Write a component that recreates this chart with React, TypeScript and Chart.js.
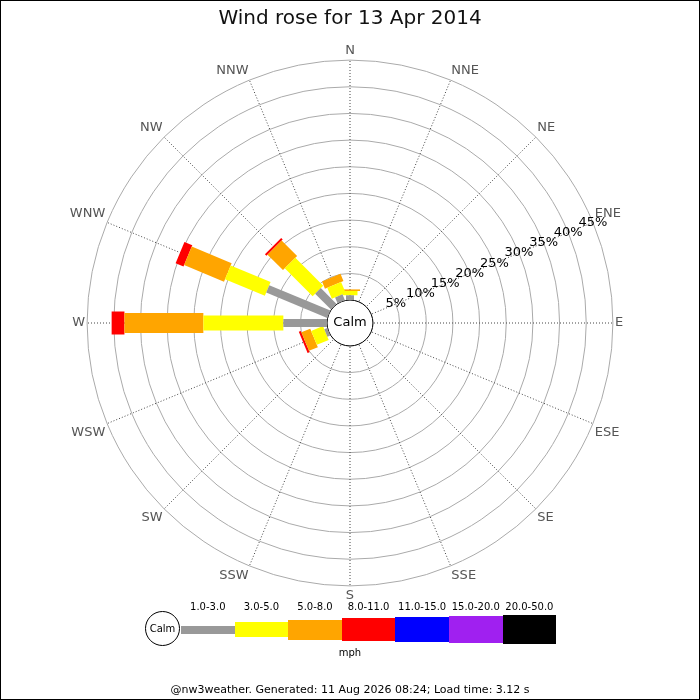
import React, { useEffect, useRef } from 'react';
import Chart from 'chart.js/auto';

// compass points, clockwise from north
const directions = ['N', 'NNE', 'NE', 'ENE', 'E', 'ESE', 'SE', 'SSE', 'S', 'SSW', 'SW', 'WSW', 'W', 'WNW', 'NW', 'NNW'];

// speed bands (mph)
const speedBands = ['1.0-3.0', '3.0-5.0', '5.0-8.0', '8.0-11.0', '11.0-15.0', '15.0-20.0', '20.0-50.0'];

// % of the day per direction, one array per band
const band1to3 = [0.9, 0, 0, 0, 0, 0, 0, 0, 0, 0, 0, 0.6, 8.2, 12.4, 4.2, 1.2];
const band3to5 = [0.8, 0, 0, 0, 0, 0, 0, 0, 0, 0, 0, 2.4, 15.0, 8.1, 7.4, 2.25];
const band5to8 = [0.3, 0, 0, 0, 0, 0, 0, 0, 0, 0, 0, 1.8, 14.8, 8.1, 4.1, 1.45];
const band8to11 = [0, 0, 0, 0, 0, 0, 0, 0, 0, 0, 0, 0.4, 2.4, 1.6, 0.4, 0];
const band11to15 = [0, 0, 0, 0, 0, 0, 0, 0, 0, 0, 0, 0, 0, 0, 0, 0];
const band15to20 = [0, 0, 0, 0, 0, 0, 0, 0, 0, 0, 0, 0, 0, 0, 0, 0];
const band20to50 = [0, 0, 0, 0, 0, 0, 0, 0, 0, 0, 0, 0, 0, 0, 0, 0];
const bandValues = [band1to3, band3to5, band5to8, band8to11, band11to15, band15to20, band20to50];

// radial ticks
const tickValues = [0, 5, 10, 15, 20, 25, 30, 35, 40, 45];
const tickLabels = ['', '5%', '10%', '15%', '20%', '25%', '30%', '35%', '40%', '45%'];
const calmEdge = -4.3; // scale value at the centre, so 0 sits on the calm circle

const bandColours = ['#999999', '#ffff00', '#ffa500', '#ff0000', '#0000ff', '#a020f0', '#000000'];
const bandWidths = [8, 15, 20, 23, 25, 27, 29];

const FONT = "'DejaVu Sans', sans-serif";

const roseExtras = {
  id: 'roseExtras',
  beforeDatasetsDraw(chart: any) {
    const r = chart.scales.r;
    const ctx = chart.ctx;
    const rad = r.getDistanceFromCenterForValue(0);
    ctx.save();
    ctx.beginPath();
    ctx.arc(r.xCenter, r.yCenter, rad, 0, Math.PI * 2);
    ctx.fillStyle = '#ffffff';
    ctx.fill();
    ctx.lineWidth = 1;
    ctx.strokeStyle = '#000000';
    ctx.stroke();
    ctx.fillStyle = '#000000';
    ctx.font = `13px ${FONT}`;
    ctx.textAlign = 'center';
    ctx.textBaseline = 'middle';
    ctx.fillText('Calm', r.xCenter, r.yCenter);
    ctx.restore();
  },
  afterDatasetsDraw(chart: any) {
    const r = chart.scales.r;
    const ctx = chart.ctx;
    const idx = directions.indexOf('ENE');
    ctx.save();
    ctx.fillStyle = '#000000';
    ctx.font = `13px ${FONT}`;
    ctx.textAlign = 'center';
    ctx.textBaseline = 'middle';
    tickValues.forEach((v, i) => {
      if (!tickLabels[i]) return;
      const p = r.getPointPositionForValue(idx, v);
      ctx.fillText(tickLabels[i], p.x, p.y);
    });
    ctx.restore();
  },
};

const App: React.FC = () => {
  const canvasRef = useRef<HTMLCanvasElement>(null);
  const chartRef = useRef<Chart | null>(null);

  useEffect(() => {
    document.body.style.margin = '0';
    if (!canvasRef.current) return;
    if (chartRef.current) chartRef.current.destroy();

    // each band segment is a rotated 'line' point at the middle of its span
    const datasets = bandValues.map((vals, b) => {
      const starts = vals.map((_, d) => bandValues.slice(0, b).reduce((s, arr) => s + arr[d], 0));
      const halfLength = (c: any) => {
        const r = c.chart.scales.r;
        const d = c.dataIndex;
        const v = vals[d];
        if (!r || !(v > 0)) return 0;
        return (r.getDistanceFromCenterForValue(starts[d] + v) - r.getDistanceFromCenterForValue(starts[d])) / 2;
      };
      return {
        label: speedBands[b],
        data: vals.map((v, d) => (v > 0 ? starts[d] + v / 2 : null)),
        showLine: false,
        fill: false,
        borderWidth: 0,
        pointStyle: 'line',
        pointBorderColor: bandColours[b],
        pointBackgroundColor: bandColours[b],
        pointBorderWidth: bandWidths[b],
        pointHoverBorderWidth: bandWidths[b],
        pointRotation: (c: any) => c.dataIndex * 22.5 - 90,
        pointRadius: halfLength,
        pointHoverRadius: halfLength,
      };
    });

    chartRef.current = new Chart(canvasRef.current, {
      type: 'radar',
      data: { labels: directions, datasets: datasets as any },
      plugins: [roseExtras],
      options: {
        responsive: true,
        maintainAspectRatio: false,
        animation: false,
        layout: { padding: { top: 0, bottom: 95.5, left: 0, right: 0 } },
        plugins: {
          legend: { display: false },
          tooltip: { enabled: false },
          title: {
            display: true,
            text: 'Wind rose for 13 Apr 2014',
            color: '#111111',
            font: { family: FONT, size: 20, weight: 'normal' },
            padding: { top: 7, bottom: 12.5 },
          },
        },
        scales: {
          r: {
            min: calmEdge,
            max: 45,
            startAngle: 0,
            afterBuildTicks: (scale: any) => {
              scale.ticks = tickValues.map((v) => ({ value: v }));
            },
            ticks: { display: false },
            grid: {
              circular: true,
              color: '#aaaaaa',
              lineWidth: 1,
            },
            angleLines: {
              display: true,
              color: '#444444',
              lineWidth: 1,
              borderDash: [1, 2],
            },
            pointLabels: {
              display: true,
              color: '#555555',
              padding: 2,
              font: { family: FONT, size: 13 },
            },
          },
        },
      },
    });

    return () => {
      if (chartRef.current) {
        chartRef.current.destroy();
        chartRef.current = null;
      }
    };
  }, []);

  const keyLeft = 181;
  const keyStep = 53.6;

  return (
    <div style={{ position: 'relative', width: 700, height: 700, fontFamily: FONT, background: '#fff' }}>
      <div style={{ position: 'absolute', left: 0, top: 0, width: 700, height: 700 }}>
        <canvas ref={canvasRef}></canvas>
      </div>
      {/* speed key */}
      <div
        style={{
          position: 'absolute', left: 145, top: 611, width: 35, height: 35, boxSizing: 'border-box',
          border: '1px solid #000', borderRadius: '50%', background: '#fff',
          display: 'flex', alignItems: 'center', justifyContent: 'center', fontSize: 10, color: '#000',
        }}
      >
        Calm
      </div>
      <div style={{ position: 'absolute', left: keyLeft, top: 615, height: 29, display: 'flex', alignItems: 'center' }}>
        {speedBands.map((b, i) => (
          <div key={b} style={{ width: keyStep, height: bandWidths[i], background: bandColours[i] }} />
        ))}
      </div>
      <div style={{ position: 'absolute', left: keyLeft, top: 600, display: 'flex' }}>
        {speedBands.map((b) => (
          <div key={b} style={{ width: keyStep, textAlign: 'center', fontSize: 10, lineHeight: '14px', color: '#000' }}>
            {b}
          </div>
        ))}
      </div>
      <div style={{ position: 'absolute', left: 0, width: 700, top: 646, textAlign: 'center', fontSize: 10, lineHeight: '14px', color: '#000' }}>
        mph
      </div>
      <div style={{ position: 'absolute', left: 0, width: 700, top: 682, textAlign: 'center', fontSize: 11, lineHeight: '16px', color: '#000' }}>
        @nw3weather. Generated: 11 Aug 2026 08:24; Load time: 3.12 s
      </div>
      <div style={{ position: 'absolute', left: 0, top: 0, width: 700, height: 700, boxSizing: 'border-box', border: '1px solid #000', pointerEvents: 'none' }} />
    </div>
  );
};

export default App;
